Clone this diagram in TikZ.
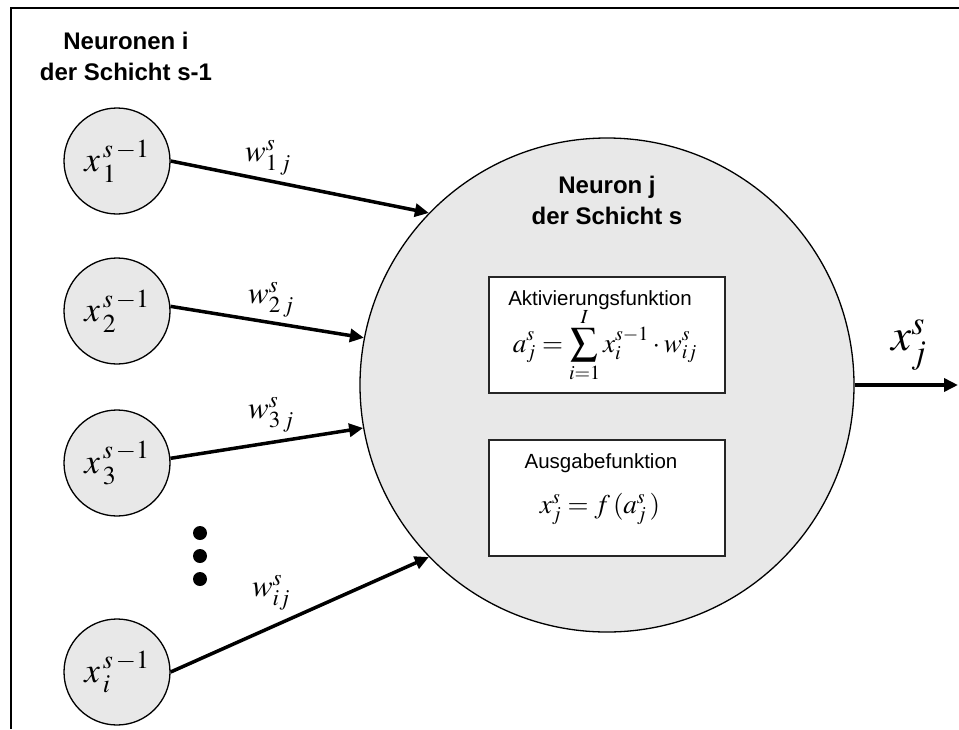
\documentclass[tikz,border=0pt]{standalone}
\usepackage{mathptmx}
\usepackage{fontspec}
\setsansfont{Liberation Sans}
\usetikzlibrary{arrows.meta}
\definecolor{cfill}{HTML}{E8E8E8}
\begin{document}
\begin{tikzpicture}[x=1pt,y=-1pt,
  neur/.style={circle, draw, line width=1.3pt, fill=cfill, minimum size=106pt, inner sep=0pt,
    font=\fontsize{35}{40}\selectfont},
  bignode/.style={circle, draw, line width=1.3pt, fill=cfill, minimum size=494pt, inner sep=0pt},
  fbox/.style={draw=black!85, line width=1.5pt, fill=white, minimum width=236pt, minimum height=116pt, inner sep=0pt},
  conn/.style={line width=3.5pt, -{Triangle[length=14pt,width=13pt]}},
  lbl/.style={font=\fontsize{24}{31}\selectfont\sffamily\bfseries, align=center},
  ttl/.style={font=\fontsize{20.5}{24}\selectfont\sffamily, anchor=base},
  fml/.style={font=\fontsize{27}{32}\selectfont, anchor=base},
  wl/.style={font=\fontsize{31}{34}\selectfont},
  dotn/.style={circle, fill=black, minimum size=14pt, inner sep=0pt},
  frame/.style={line width=2pt}]
\useasboundingbox (0,0) rectangle (959,729);
\draw[frame] (10,8) -- (959,8);
\draw[frame] (11,8) -- (11,729);

\node[bignode] (nj) at (607,385) {};
\node[lbl] (njt) at (607,200) {Neuron j\\der Schicht s};
\node[lbl] (nit) at (126,56) {Neuronen i\\der Schicht s-1};

\node[fbox] (b1) at (607,335) {};
\node[fbox] (b2) at (607,498) {};
\node[ttl] (t1) at (600,305) {Aktivierungsfunktion};
\node[fml] (f1) at (605,352) {$\displaystyle a_j^s = \sum_{i=1}^{I} x_i^{s-1}\cdot w_{ij}^s$};
\node[ttl] (t2) at (601,468) {Ausgabefunktion};
\node[fml] (f2) at (600,513) {$x_j^s = f\,(a_j^s\,)$};

\node[neur] (x1) at (117,161) {$x_{\,1}^{\,s\,-1}$};
\node[neur] (x2) at (117,311) {$x_{\,2}^{\,s\,-1}$};
\node[neur] (x3) at (117,463) {$x_{\,3}^{\,s\,-1}$};
\node[neur] (xi) at (117,672) {$x_{\,i}^{\,s\,-1}$};

\node[dotn] (d1) at (200,533) {};
\node[dotn] (d2) at (200,556) {};
\node[dotn] (d3) at (200,579) {};

\draw[conn] (x1.0) -- (nj.136);
\draw[conn] (x2.5) -- (nj.169);
\draw[conn] (x3.5) -- (nj.190);
\draw[conn] (xi.0) -- (nj.224);
\coordinate (out) at (958,385);
\draw[conn] (nj.east) -- (out);

\node[wl] (w1) at (268,158) {$w_{1\,j}^{s}$};
\node[wl] (w2) at (271,300) {$w_{2\,j}^{s}$};
\node[wl] (w3) at (271,415) {$w_{3\,j}^{s}$};
\node[wl] (wi) at (271,593) {$w_{ij}^{s}$};
\node[font=\fontsize{45}{50}\selectfont] (xo) at (909,345) {$x_j^s$};
\end{tikzpicture}
\end{document}
